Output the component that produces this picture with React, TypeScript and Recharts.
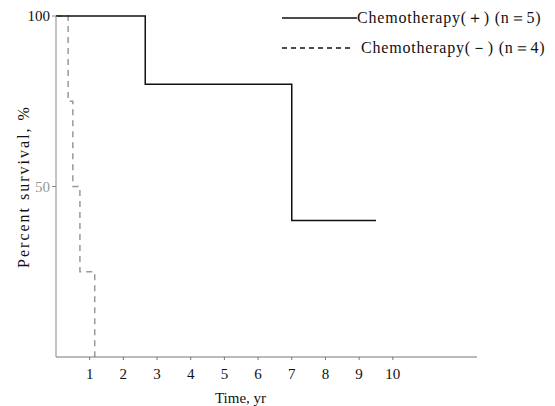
import React from 'react'
import { LineChart, Line, XAxis, YAxis } from 'recharts'

// Kaplan-Meier style step curves
const chemoPlus = [
  { t: 0, v: 100 },
  { t: 2.65, v: 80 },
  { t: 7, v: 40 },
  { t: 9.5, v: 40 },
]

const chemoMinus = [
  { t: 0, v: 100 },
  { t: 0.36, v: 75 },
  { t: 0.5, v: 50 },
  { t: 0.71, v: 25 },
  { t: 1.15, v: 0 },
]

const xTicks = [1, 2, 3, 4, 5, 6, 7, 8, 9, 10]
const yTicks = [50, 100]

const legendItems = [
  { label: 'Chemotherapy(＋) (n＝5)', dash: undefined as string | undefined },
  { label: 'Chemotherapy(－) (n＝4)', dash: '5 4' },
]

const font = '"Liberation Serif", "Times New Roman", serif'

const YTick = (props: any) => {
  const { x, y, payload } = props
  return (
    <text
      x={x}
      y={y}
      dy={5}
      textAnchor="end"
      fontFamily={font}
      fontSize={15}
      fill={payload.value === 100 ? '#111' : '#999'}
    >
      {payload.value}
    </text>
  )
}

const XTick = (props: any) => {
  const { x, y, payload } = props
  return (
    <text x={x} y={y} dy={17} textAnchor="middle" fontFamily={font} fontSize={15} fill="#111">
      {payload.value}
    </text>
  )
}

export default function App() {
  return (
    <div style={{ position: 'absolute', left: 0, top: 0, width: 555, height: 406, background: '#fff' }}>
      <LineChart width={555} height={406} margin={{ top: 16, right: 78, bottom: 19, left: 0 }}>
        <XAxis
          type="number"
          dataKey="t"
          domain={[0, 12.5]}
          ticks={xTicks}
          allowDataOverflow
          height={30}
          stroke="#777"
          tickSize={3}
          tick={<XTick />}
          label={{ value: 'Time, yr', position: 'insideBottom', offset: -16, dx: -26, style: { fontFamily: font, fontSize: 15, fill: '#111' } }}
        />
        <YAxis
          type="number"
          domain={[0, 100]}
          ticks={yTicks}
          width={56}
          stroke="#888"
          tickSize={4}
          tick={<YTick />}
          label={{ value: 'Percent survival, %', angle: -90, position: 'insideLeft', dx: 18, dy: 0, style: { fontFamily: font, fontSize: 16, letterSpacing: 2, fill: '#111', textAnchor: 'middle' } }}
        />
        <Line
          data={chemoMinus}
          dataKey="v"
          type="stepAfter"
          stroke="#999"
          strokeWidth={1.5}
          strokeDasharray="6 5"
          dot={false}
          isAnimationActive={false}
        />
        <Line
          data={chemoPlus}
          dataKey="v"
          type="stepAfter"
          stroke="#111"
          strokeWidth={1.5}
          dot={false}
          isAnimationActive={false}
        />
      </LineChart>
      <div style={{ position: 'absolute', left: 282, top: 3, fontFamily: font, fontSize: 16, letterSpacing: 0.8, color: '#111' }}>
        {legendItems.map((it, i) => (
          <div key={i} style={{ display: 'flex', alignItems: 'center', height: 30, whiteSpace: 'nowrap' }}>
            <svg width={i === 0 ? 75 : 79} height={4}>
              <line x1={0} y1={2} x2={i === 0 ? 75 : 69} y2={2} stroke="#111" strokeWidth={1.5} strokeDasharray={it.dash} />
            </svg>
            <span>{it.label}</span>
          </div>
        ))}
      </div>
    </div>
  )
}
